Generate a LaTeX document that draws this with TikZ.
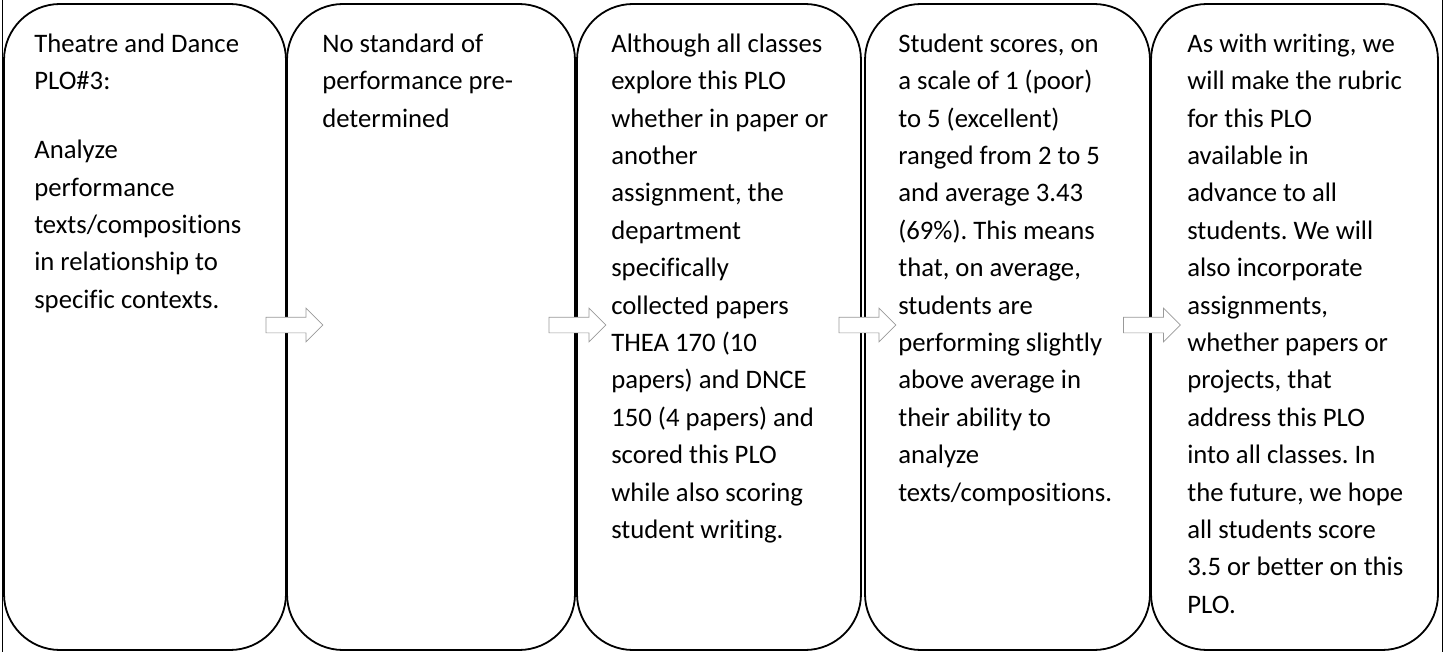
\documentclass[tikz,border=0pt]{standalone}
\usepackage{fontspec}
\setmainfont{Carlito}[Ligatures=NoCommon]
\usetikzlibrary{shapes.arrows}

\tikzset{
  stage/.style={draw,line width=1.8pt,rounded corners=56pt,minimum height=646pt,inner sep=0pt},
  stagetext/.style={anchor=north west,inner sep=0pt,align=left,font=\fontsize{26.7}{37.4}\selectfont},
  flow/.style={single arrow,draw=gray!80,line width=0.7pt,fill=white,inner xsep=0pt,inner ysep=7.5pt,
    minimum height=57pt,single arrow head extend=9pt}
}

\begin{document}
\frenchspacing
\begin{tikzpicture}[x=1pt,y=-1pt]
 \useasboundingbox (0,0) rectangle (1445,652);
 % cell edges left and right
 \draw[line width=1.2pt] (2.5,0) -- (2.5,652);
 \draw[line width=1.2pt] (1442.5,0) -- (1442.5,652);
 % the five stages
 \node[stage,minimum width=282pt] (s1) at (145,327) {};
 \node[stage,minimum width=288pt] (s2) at (431,327) {};
 \node[stage,minimum width=284pt] (s3) at (719,327) {};
 \node[stage,minimum width=285pt] (s4) at (1007.5,327) {};
 \node[stage,minimum width=287pt] (s5) at (1294.5,327) {};
 \node[stagetext] (t1) at ([shift={(31pt,-22.8pt)}]s1.north west) {\strut Theatre and Dance\\PLO\#3:\\[31.6pt]
  Analyze\\performance\\texts/compositions\\in relationship to\\specific contexts.};
 \node[stagetext] (t2) at ([shift={(36pt,-22.8pt)}]s2.north west) {\strut No standard of\\performance pre-\\determined};
 \node[stagetext] (t3) at ([shift={(35pt,-22.8pt)}]s3.north west) {\strut Although all classes\\explore this PLO\\whether in paper or\\another\\assignment, the\\department\\specifically\\collected papers\\THEA 170 (10\\papers) and DNCE\\150 (4 papers) and\\scored this PLO\\while also scoring\\student writing.};
 \node[stagetext] (t4) at ([shift={(34pt,-22.8pt)}]s4.north west) {\strut Student scores, on\\a scale of 1 (poor)\\to 5 (excellent)\\ranged from 2 to 5\\and average 3.43\\(69\%). This means\\that, on average,\\students are\\performing slightly\\above average in\\their ability to\\analyze\\texts/compositions.};
 \node[stagetext] (t5) at ([shift={(37pt,-22.8pt)}]s5.north west) {\strut As with writing, we\\will make the rubric\\for this PLO\\available in\\advance to all\\students. We will\\also incorporate\\assignments,\\whether papers or\\projects, that\\address this PLO\\into all classes. In\\the future, we hope\\all students score\\3.5 or better on this\\PLO.};
 % block arrows over the joins
 \node[flow] (a1) at (290.5,325) {};
 \node[flow] (a2) at (573.5,325) {};
 \node[flow] (a3) at (863.5,325) {};
 \node[flow] (a4) at (1148,325) {};
\end{tikzpicture}
\end{document}
